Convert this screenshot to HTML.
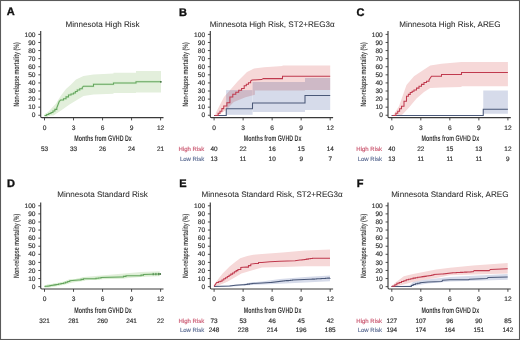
<!DOCTYPE html>
<html><head><meta charset="utf-8"><style>
html,body{margin:0;padding:0;background:#fff;}
svg{display:block;font-family:"Liberation Sans", sans-serif;text-rendering:geometricPrecision;filter:blur(0.25px);}
</style></head><body>
<svg width="520" height="340" viewBox="0 0 520 340">
<rect x="0" y="0" width="520" height="340" fill="#ffffff"/><polygon points="44.5,115.5 50,110 56,103.5 61,95.5 66,89 70.5,85 76,79.5 83.5,76 93.5,74.5 113.5,73.5 113.5,72.7 136,72.7 136,71 161,71 161,92.5 136,92.5 136,93 113.5,93 113.5,93.8 93.5,94.5 83.5,96 69.5,104.5 61,110.5 53.5,115.5" fill="#e3efdc"/><polyline points="44.50,115.50 46.67,115.50 46.67,114.50 48.83,114.50 48.83,113.50 51.00,113.50 51.00,112.50 52.93,112.50 52.93,110.93 54.87,110.93 54.87,109.37 56.80,109.37 56.80,107.80 59.20,101.50 60.70,100.00 63.50,100.00 63.50,98.75 66.00,98.75 66.00,96.88 68.50,96.88 68.50,95.00 71.00,95.00 71.00,94.00 73.50,94.00 73.50,93.00 75.38,93.00 75.38,91.50 77.25,91.50 77.25,90.00 79.75,90.00 79.75,88.75 82.25,88.75 82.25,87.50 83.50,86.25 93.50,86.25 93.50,84.25 113.50,84.25 113.50,83.00 136.00,83.00 136.00,81.75 161.00,81.75" fill="none" stroke="#d4edcc" stroke-width="2.6" stroke-linejoin="miter"/><polyline points="44.50,115.50 46.67,115.50 46.67,114.50 48.83,114.50 48.83,113.50 51.00,113.50 51.00,112.50 52.93,112.50 52.93,110.93 54.87,110.93 54.87,109.37 56.80,109.37 56.80,107.80 59.20,101.50 60.70,100.00 63.50,100.00 63.50,98.75 66.00,98.75 66.00,96.88 68.50,96.88 68.50,95.00 71.00,95.00 71.00,94.00 73.50,94.00 73.50,93.00 75.38,93.00 75.38,91.50 77.25,91.50 77.25,90.00 79.75,90.00 79.75,88.75 82.25,88.75 82.25,87.50 83.50,86.25 93.50,86.25 93.50,84.25 113.50,84.25 113.50,83.00 136.00,83.00 136.00,81.75 161.00,81.75" fill="none" stroke="#65a45f" stroke-width="1.05" stroke-linejoin="miter"/><circle cx="160.9" cy="81.8" r="0.9" fill="#3e6e3c"/><rect x="226.1" y="90.1" width="26.50" height="24.70" fill="#d6dbea" fill-opacity="1"/><rect x="252.6" y="82.0" width="52.40" height="30.00" fill="#d6dbea" fill-opacity="1"/><rect x="305.0" y="78.0" width="25.20" height="32.00" fill="#d6dbea" fill-opacity="1"/><g style="mix-blend-mode:multiply"><polygon points="215,115.5 216,112.5 224,97 231,89 238,81 247,72 254,68.6 264,67.2 282.5,66 282.5,65.5 330.2,65.5 330.2,90 305,90 305,90.5 254.9,90.5 254.9,94.8 245.5,97.2 233.8,101.9 226.1,110 218,115.5" fill="#f6d8d8"/></g><polyline points="214.00,115.40 226.25,115.40 226.25,108.75 252.50,108.75 252.50,103.00 305.00,103.00 305.00,95.50 330.20,95.50" fill="none" stroke="#4a5878" stroke-width="1.05" stroke-linejoin="miter"/><polyline points="214.50,115.40 216.25,115.40 218.12,115.40 218.12,113.33 220.00,113.33 220.00,111.25 221.88,111.25 221.88,108.62 223.75,108.62 223.75,106.00 226.90,106.00 226.90,102.80 229.90,102.80 229.90,96.90 232.80,96.90 232.80,94.30 235.80,94.30 235.80,92.20 238.70,92.20 238.70,90.20 241.60,90.20 241.60,88.40 244.20,88.40 244.20,85.80 246.33,85.80 246.33,84.23 248.47,84.23 248.47,82.67 250.60,82.67 250.60,81.10 252.00,80.00 261.50,79.60 263.30,78.60 282.50,78.60 282.50,76.25 330.20,76.25" fill="none" stroke="#c03a4e" stroke-width="1.05" stroke-linejoin="miter"/><rect x="483.25" y="90.5" width="24.65" height="23.25" fill="#d6dbea" fill-opacity="1"/><polygon points="393,115.5 394,114 399,106.25 406.5,85 414,76.25 421.5,71.25 430.25,65.5 441.5,63.75 461.5,62 507.9,62 507.9,86.25 461.5,86.25 461.5,87 441.5,87.5 430.25,88 424,92 416.5,98.5 409,107.5 401.5,115.5" fill="#f6d8d8"/><polyline points="391.50,115.40 483.25,115.40 483.25,109.25 507.90,109.25" fill="none" stroke="#4a5878" stroke-width="1.05" stroke-linejoin="miter"/><polyline points="392.50,115.40 394.00,115.40 395.88,115.40 395.88,113.33 397.75,113.33 397.75,111.25 399.62,111.25 399.62,108.75 401.50,108.75 401.50,106.25 404.00,106.25 404.00,101.25 406.50,101.25 406.50,96.25 408.38,96.25 408.38,94.38 410.25,94.38 410.25,92.50 412.12,92.50 412.12,91.25 414.00,91.25 414.00,90.00 416.50,90.00 416.50,88.12 419.00,88.12 419.00,86.25 421.50,86.25 421.50,84.38 424.00,84.38 424.00,82.50 426.50,82.50 426.50,81.25 429.00,81.25 429.00,80.00 431.50,76.25 441.50,76.25 441.50,74.50 461.50,74.50 461.50,72.50 507.90,72.50" fill="none" stroke="#c03a4e" stroke-width="1.05" stroke-linejoin="miter"/><polygon points="44.5,286.5 52,285 63.5,282 83.5,277 101,275.5 121,273.75 141,272 159.75,271.25 159.75,276.25 141,277 121,278.75 101,279.25 83.5,280.5 63.5,284.5 50,287" fill="#e3efdc"/><polyline points="44.50,286.50 46.00,286.25 48.00,286.25 48.00,285.90 50.00,285.90 50.00,285.55 52.00,285.55 52.00,285.20 54.00,285.20 54.00,284.85 56.00,284.85 56.00,284.50 58.50,284.50 58.50,284.00 61.00,284.00 61.00,283.50 63.50,283.50 63.50,283.00 65.58,283.00 65.58,282.25 67.67,282.25 67.67,281.50 69.75,281.50 69.75,280.75 78.50,280.00 81.00,280.00 81.00,279.38 83.50,279.38 83.50,278.75 93.50,278.75 96.00,278.75 96.00,278.33 98.50,278.33 98.50,277.92 101.00,277.92 101.00,277.50 121.00,277.00 123.50,277.00 123.50,276.38 126.00,276.38 126.00,275.75 138.50,275.75 141.00,275.75 141.00,275.12 143.50,275.12 143.50,274.50 159.75,274.00" fill="none" stroke="#d4edcc" stroke-width="2.6" stroke-linejoin="miter"/><polyline points="44.50,286.50 46.00,286.25 48.00,286.25 48.00,285.90 50.00,285.90 50.00,285.55 52.00,285.55 52.00,285.20 54.00,285.20 54.00,284.85 56.00,284.85 56.00,284.50 58.50,284.50 58.50,284.00 61.00,284.00 61.00,283.50 63.50,283.50 63.50,283.00 65.58,283.00 65.58,282.25 67.67,282.25 67.67,281.50 69.75,281.50 69.75,280.75 78.50,280.00 81.00,280.00 81.00,279.38 83.50,279.38 83.50,278.75 93.50,278.75 96.00,278.75 96.00,278.33 98.50,278.33 98.50,277.92 101.00,277.92 101.00,277.50 121.00,277.00 123.50,277.00 123.50,276.38 126.00,276.38 126.00,275.75 138.50,275.75 141.00,275.75 141.00,275.12 143.50,275.12 143.50,274.50 159.75,274.00" fill="none" stroke="#65a45f" stroke-width="1.05" stroke-linejoin="miter"/><line x1="153.2" y1="272.9" x2="153.2" y2="275.3" stroke="#3e7a3c" stroke-width="0.8"/><line x1="155.9" y1="272.9" x2="155.9" y2="275.3" stroke="#3e7a3c" stroke-width="0.8"/><line x1="158.6" y1="272.9" x2="158.6" y2="275.3" stroke="#3e7a3c" stroke-width="0.8"/><circle cx="160.2" cy="274" r="0.9" fill="#3e6e3c"/><polygon points="214,286.5 242.6,284 252,282.2 262,281.5 280,279 305,277 330,275.5 330,281.25 280,283.75 252,285 230,286.8 214,286.8" fill="#d6dbea"/><g style="mix-blend-mode:multiply"><polygon points="214,286.5 214.4,284.1 222.6,273.5 229.6,266.5 235.5,261.8 240.2,258.2 247.3,255.9 253.2,254.7 262,254.1 282.5,252.5 305,250.5 330,249.5 330,266.25 305,266.25 282.5,267 262,267.6 253.2,270 247.3,271.8 241.4,273.5 235.5,277.1 227.3,281.8 219,285.3 216,286.5" fill="#f6d8d8"/></g><polyline points="214.00,286.40 229.60,285.90 235.50,285.30 242.60,284.70 244.95,284.70 244.95,284.40 247.30,284.40 247.30,284.10 249.65,284.10 249.65,283.80 252.00,283.80 252.00,283.50 262.00,282.90 270.00,282.50 272.00,282.50 272.00,282.25 274.00,282.25 274.00,282.00 276.00,282.00 276.00,281.75 278.00,281.75 278.00,281.50 280.00,281.50 280.00,281.25 282.08,281.25 282.08,281.04 284.17,281.04 284.17,280.83 286.25,280.83 286.25,280.62 288.33,280.62 288.33,280.42 290.42,280.42 290.42,280.21 292.50,280.21 292.50,280.00 310.00,279.25 312.22,279.25 312.22,279.11 314.44,279.11 314.44,278.97 316.67,278.97 316.67,278.83 318.89,278.83 318.89,278.69 321.11,278.69 321.11,278.56 323.33,278.56 323.33,278.42 325.56,278.42 325.56,278.28 327.78,278.28 327.78,278.14 330.00,278.14 330.00,278.00" fill="none" stroke="#4a5878" stroke-width="1.05" stroke-linejoin="miter"/><polyline points="214.00,286.40 214.40,285.90 216.70,282.40 218.45,282.40 218.45,281.80 220.20,281.80 220.20,281.20 222.00,281.20 222.00,280.00 223.80,280.00 223.80,278.80 225.55,278.80 225.55,277.65 227.30,277.65 227.30,276.50 229.05,276.50 229.05,275.30 230.80,275.30 230.80,274.10 232.60,274.10 232.60,272.95 234.40,272.95 234.40,271.80 236.15,271.80 236.15,270.60 237.90,270.60 237.90,269.40 240.80,269.40 240.80,267.60 246.10,267.10 248.45,267.10 248.45,265.60 250.80,265.60 250.80,264.10 255.50,263.50 258.50,263.50 258.50,262.40 262.00,262.40 270.00,261.75 280.00,261.25 295.00,260.75 300.00,260.00 302.08,260.00 302.08,259.71 304.17,259.71 304.17,259.42 306.25,259.42 306.25,259.12 308.33,259.12 308.33,258.83 310.42,258.83 310.42,258.54 312.50,258.54 312.50,258.25 330.00,258.25" fill="none" stroke="#c03a4e" stroke-width="1.05" stroke-linejoin="miter"/><polygon points="391.5,286.5 409.6,285.5 413.1,282.1 424.6,279.8 450,276.9 473.1,275.8 507.7,274 507.7,279.8 450,281.5 428,283.5 413.1,286 391.5,286.7" fill="#d6dbea"/><g style="mix-blend-mode:multiply"><polygon points="391.5,286.5 394.6,283.3 403.8,276.3 413.1,274 424.6,271.7 436.1,269.4 450,267.7 473.1,265.4 507.7,263.1 507.7,273.5 473.1,274.6 450,275.2 436.1,278.1 424.6,279.8 413.1,282.1 401.5,285 396,286.5" fill="#f6d8d8"/></g><polyline points="391.50,286.40 409.60,286.40 411.35,286.40 411.35,285.40 413.10,285.40 413.10,284.40 415.40,284.40 415.40,283.83 417.70,283.83 417.70,283.27 420.00,283.27 420.00,282.70 428.10,282.10 441.90,281.50 442.50,280.20 450.00,279.80 468.50,279.80 469.60,279.20 486.90,278.60 488.10,277.50 507.70,276.90" fill="none" stroke="#4a5878" stroke-width="1.05" stroke-linejoin="miter"/><polyline points="391.50,286.40 392.90,286.10 394.90,286.10 394.90,284.70 396.90,284.70 396.90,283.30 399.20,283.30 399.20,282.40 401.50,282.40 401.50,281.50 403.85,281.50 403.85,280.65 406.20,280.65 406.20,279.80 408.50,279.80 408.50,279.23 410.80,279.23 410.80,278.67 413.10,278.67 413.10,278.10 415.40,278.10 415.40,277.70 417.70,277.70 417.70,277.30 420.00,277.30 420.00,276.90 422.02,276.90 422.02,276.62 424.05,276.62 424.05,276.35 426.08,276.35 426.08,276.07 428.10,276.07 428.10,275.80 430.00,275.80 430.00,275.40 431.90,275.40 431.90,275.00 433.80,275.00 433.80,274.60 441.90,274.00 443.92,274.00 443.92,273.73 445.95,273.73 445.95,273.45 447.98,273.45 447.98,273.17 450.00,273.17 450.00,272.90 452.10,272.90 452.10,272.79 454.20,272.79 454.20,272.68 456.30,272.68 456.30,272.57 458.40,272.57 458.40,272.46 460.50,272.46 460.50,272.35 462.60,272.35 462.60,272.25 464.70,272.25 464.70,272.14 466.80,272.14 466.80,272.03 468.90,272.03 468.90,271.92 471.00,271.92 471.00,271.81 473.10,271.81 473.10,271.70 474.20,270.60 489.20,270.60 490.40,269.40 507.70,268.80" fill="none" stroke="#c03a4e" stroke-width="1.05" stroke-linejoin="miter"/><text x="6.7" y="15.4" font-size="11" font-weight="700" fill="#111" stroke="#111" stroke-width="0.35">A</text><g transform="translate(0,0)"><text x="102.55" y="26.7" font-size="8.1" text-anchor="middle" fill="#2a2a2a" stroke="#2a2a2a" stroke-width="0.06">Minnesota High Risk</text><path d="M40.7,31.0 L40.7,116.39999999999999 Q40.7,117.6 41.900000000000006,117.6 L163.5,117.6" fill="none" stroke="#3a3a3a" stroke-width="1.15"/><line x1="38.300000000000004" y1="115.25" x2="40.7" y2="115.25" stroke="#3a3a3a" stroke-width="0.9"/><text x="35.50" y="117.40" font-size="6.6" text-anchor="end" fill="#333333" stroke="#333333" stroke-width="0.18">0</text><line x1="38.300000000000004" y1="107.17" x2="40.7" y2="107.17" stroke="#3a3a3a" stroke-width="0.9"/><text x="35.50" y="109.32" font-size="6.6" text-anchor="end" fill="#333333" stroke="#333333" stroke-width="0.18">10</text><line x1="38.300000000000004" y1="99.08" x2="40.7" y2="99.08" stroke="#3a3a3a" stroke-width="0.9"/><text x="35.50" y="101.23" font-size="6.6" text-anchor="end" fill="#333333" stroke="#333333" stroke-width="0.18">20</text><line x1="38.300000000000004" y1="91.00" x2="40.7" y2="91.00" stroke="#3a3a3a" stroke-width="0.9"/><text x="35.50" y="93.15" font-size="6.6" text-anchor="end" fill="#333333" stroke="#333333" stroke-width="0.18">30</text><line x1="38.300000000000004" y1="82.91" x2="40.7" y2="82.91" stroke="#3a3a3a" stroke-width="0.9"/><text x="35.50" y="85.06" font-size="6.6" text-anchor="end" fill="#333333" stroke="#333333" stroke-width="0.18">40</text><line x1="38.300000000000004" y1="74.83" x2="40.7" y2="74.83" stroke="#3a3a3a" stroke-width="0.9"/><text x="35.50" y="76.98" font-size="6.6" text-anchor="end" fill="#333333" stroke="#333333" stroke-width="0.18">50</text><line x1="38.300000000000004" y1="66.74" x2="40.7" y2="66.74" stroke="#3a3a3a" stroke-width="0.9"/><text x="35.50" y="68.89" font-size="6.6" text-anchor="end" fill="#333333" stroke="#333333" stroke-width="0.18">60</text><line x1="38.300000000000004" y1="58.66" x2="40.7" y2="58.66" stroke="#3a3a3a" stroke-width="0.9"/><text x="35.50" y="60.81" font-size="6.6" text-anchor="end" fill="#333333" stroke="#333333" stroke-width="0.18">70</text><line x1="38.300000000000004" y1="50.57" x2="40.7" y2="50.57" stroke="#3a3a3a" stroke-width="0.9"/><text x="35.50" y="52.72" font-size="6.6" text-anchor="end" fill="#333333" stroke="#333333" stroke-width="0.18">80</text><line x1="38.300000000000004" y1="42.48" x2="40.7" y2="42.48" stroke="#3a3a3a" stroke-width="0.9"/><text x="35.50" y="44.63" font-size="6.6" text-anchor="end" fill="#333333" stroke="#333333" stroke-width="0.18">90</text><line x1="38.300000000000004" y1="34.40" x2="40.7" y2="34.40" stroke="#3a3a3a" stroke-width="0.9"/><text x="35.50" y="36.55" font-size="6.6" text-anchor="end" fill="#333333" stroke="#333333" stroke-width="0.18">100</text><line x1="44.50" y1="117.6" x2="44.50" y2="120.39999999999999" stroke="#3a3a3a" stroke-width="0.9"/><text x="44.50" y="129.5" font-size="6.6" text-anchor="middle" fill="#333333" stroke="#333333" stroke-width="0.18">0</text><line x1="73.52" y1="117.6" x2="73.52" y2="120.39999999999999" stroke="#3a3a3a" stroke-width="0.9"/><text x="73.52" y="129.5" font-size="6.6" text-anchor="middle" fill="#333333" stroke="#333333" stroke-width="0.18">3</text><line x1="102.55" y1="117.6" x2="102.55" y2="120.39999999999999" stroke="#3a3a3a" stroke-width="0.9"/><text x="102.55" y="129.5" font-size="6.6" text-anchor="middle" fill="#333333" stroke="#333333" stroke-width="0.18">6</text><line x1="131.57" y1="117.6" x2="131.57" y2="120.39999999999999" stroke="#3a3a3a" stroke-width="0.9"/><text x="131.57" y="129.5" font-size="6.6" text-anchor="middle" fill="#333333" stroke="#333333" stroke-width="0.18">9</text><line x1="160.60" y1="117.6" x2="160.60" y2="120.39999999999999" stroke="#3a3a3a" stroke-width="0.9"/><text x="160.60" y="129.5" font-size="6.6" text-anchor="middle" fill="#333333" stroke="#333333" stroke-width="0.18">12</text><text transform="translate(103.05,141.1) scale(0.66,1)" x="0" y="0" font-size="8.1" font-weight="700" text-anchor="middle" fill="#383838">Months from GVHD Dx</text><text transform="translate(18.8,74.4) rotate(-90) scale(0.68,1)" x="0" y="0" font-size="7.8" font-weight="700" text-anchor="middle" fill="#484848">Non-relapse mortality (%)</text><text x="44.50" y="151.20" font-size="6.4" text-anchor="middle" fill="#333333" stroke="#333333" stroke-width="0.18">53</text><text x="73.52" y="151.20" font-size="6.4" text-anchor="middle" fill="#333333" stroke="#333333" stroke-width="0.18">33</text><text x="102.55" y="151.20" font-size="6.4" text-anchor="middle" fill="#333333" stroke="#333333" stroke-width="0.18">26</text><text x="131.57" y="151.20" font-size="6.4" text-anchor="middle" fill="#333333" stroke="#333333" stroke-width="0.18">24</text><text x="160.60" y="151.20" font-size="6.4" text-anchor="middle" fill="#333333" stroke="#333333" stroke-width="0.18">21</text></g><text x="179.0" y="16.1" font-size="11" font-weight="700" fill="#111" stroke="#111" stroke-width="0.35">B</text><g transform="translate(169.6,0)"><text x="102.55" y="26.7" font-size="8.1" text-anchor="middle" fill="#2a2a2a" stroke="#2a2a2a" stroke-width="0.06">Minnesota High Risk, ST2+REG3α</text><path d="M40.7,31.0 L40.7,116.39999999999999 Q40.7,117.6 41.900000000000006,117.6 L163.5,117.6" fill="none" stroke="#3a3a3a" stroke-width="1.15"/><line x1="38.300000000000004" y1="115.25" x2="40.7" y2="115.25" stroke="#3a3a3a" stroke-width="0.9"/><text x="35.50" y="117.40" font-size="6.6" text-anchor="end" fill="#333333" stroke="#333333" stroke-width="0.18">0</text><line x1="38.300000000000004" y1="107.17" x2="40.7" y2="107.17" stroke="#3a3a3a" stroke-width="0.9"/><text x="35.50" y="109.32" font-size="6.6" text-anchor="end" fill="#333333" stroke="#333333" stroke-width="0.18">10</text><line x1="38.300000000000004" y1="99.08" x2="40.7" y2="99.08" stroke="#3a3a3a" stroke-width="0.9"/><text x="35.50" y="101.23" font-size="6.6" text-anchor="end" fill="#333333" stroke="#333333" stroke-width="0.18">20</text><line x1="38.300000000000004" y1="91.00" x2="40.7" y2="91.00" stroke="#3a3a3a" stroke-width="0.9"/><text x="35.50" y="93.15" font-size="6.6" text-anchor="end" fill="#333333" stroke="#333333" stroke-width="0.18">30</text><line x1="38.300000000000004" y1="82.91" x2="40.7" y2="82.91" stroke="#3a3a3a" stroke-width="0.9"/><text x="35.50" y="85.06" font-size="6.6" text-anchor="end" fill="#333333" stroke="#333333" stroke-width="0.18">40</text><line x1="38.300000000000004" y1="74.83" x2="40.7" y2="74.83" stroke="#3a3a3a" stroke-width="0.9"/><text x="35.50" y="76.98" font-size="6.6" text-anchor="end" fill="#333333" stroke="#333333" stroke-width="0.18">50</text><line x1="38.300000000000004" y1="66.74" x2="40.7" y2="66.74" stroke="#3a3a3a" stroke-width="0.9"/><text x="35.50" y="68.89" font-size="6.6" text-anchor="end" fill="#333333" stroke="#333333" stroke-width="0.18">60</text><line x1="38.300000000000004" y1="58.66" x2="40.7" y2="58.66" stroke="#3a3a3a" stroke-width="0.9"/><text x="35.50" y="60.81" font-size="6.6" text-anchor="end" fill="#333333" stroke="#333333" stroke-width="0.18">70</text><line x1="38.300000000000004" y1="50.57" x2="40.7" y2="50.57" stroke="#3a3a3a" stroke-width="0.9"/><text x="35.50" y="52.72" font-size="6.6" text-anchor="end" fill="#333333" stroke="#333333" stroke-width="0.18">80</text><line x1="38.300000000000004" y1="42.48" x2="40.7" y2="42.48" stroke="#3a3a3a" stroke-width="0.9"/><text x="35.50" y="44.63" font-size="6.6" text-anchor="end" fill="#333333" stroke="#333333" stroke-width="0.18">90</text><line x1="38.300000000000004" y1="34.40" x2="40.7" y2="34.40" stroke="#3a3a3a" stroke-width="0.9"/><text x="35.50" y="36.55" font-size="6.6" text-anchor="end" fill="#333333" stroke="#333333" stroke-width="0.18">100</text><line x1="44.50" y1="117.6" x2="44.50" y2="120.39999999999999" stroke="#3a3a3a" stroke-width="0.9"/><text x="44.50" y="129.5" font-size="6.6" text-anchor="middle" fill="#333333" stroke="#333333" stroke-width="0.18">0</text><line x1="73.52" y1="117.6" x2="73.52" y2="120.39999999999999" stroke="#3a3a3a" stroke-width="0.9"/><text x="73.52" y="129.5" font-size="6.6" text-anchor="middle" fill="#333333" stroke="#333333" stroke-width="0.18">3</text><line x1="102.55" y1="117.6" x2="102.55" y2="120.39999999999999" stroke="#3a3a3a" stroke-width="0.9"/><text x="102.55" y="129.5" font-size="6.6" text-anchor="middle" fill="#333333" stroke="#333333" stroke-width="0.18">6</text><line x1="131.57" y1="117.6" x2="131.57" y2="120.39999999999999" stroke="#3a3a3a" stroke-width="0.9"/><text x="131.57" y="129.5" font-size="6.6" text-anchor="middle" fill="#333333" stroke="#333333" stroke-width="0.18">9</text><line x1="160.60" y1="117.6" x2="160.60" y2="120.39999999999999" stroke="#3a3a3a" stroke-width="0.9"/><text x="160.60" y="129.5" font-size="6.6" text-anchor="middle" fill="#333333" stroke="#333333" stroke-width="0.18">12</text><text transform="translate(103.05,141.1) scale(0.66,1)" x="0" y="0" font-size="8.1" font-weight="700" text-anchor="middle" fill="#383838">Months from GVHD Dx</text><text transform="translate(18.8,74.4) rotate(-90) scale(0.68,1)" x="0" y="0" font-size="7.8" font-weight="700" text-anchor="middle" fill="#484848">Non-relapse mortality (%)</text><text x="34.70" y="151.20" font-size="6" text-anchor="end" fill="#c8506a" stroke="#c8506a" stroke-width="0.12">High Risk</text><text x="44.50" y="151.20" font-size="6.4" text-anchor="middle" fill="#333333" stroke="#333333" stroke-width="0.18">40</text><text x="73.52" y="151.20" font-size="6.4" text-anchor="middle" fill="#333333" stroke="#333333" stroke-width="0.18">22</text><text x="102.55" y="151.20" font-size="6.4" text-anchor="middle" fill="#333333" stroke="#333333" stroke-width="0.18">16</text><text x="131.57" y="151.20" font-size="6.4" text-anchor="middle" fill="#333333" stroke="#333333" stroke-width="0.18">15</text><text x="160.60" y="151.20" font-size="6.4" text-anchor="middle" fill="#333333" stroke="#333333" stroke-width="0.18">14</text><text x="34.70" y="160.85" font-size="6" text-anchor="end" fill="#56678f" stroke="#56678f" stroke-width="0.12">Low Risk</text><text x="44.50" y="160.85" font-size="6.4" text-anchor="middle" fill="#333333" stroke="#333333" stroke-width="0.18">13</text><text x="73.52" y="160.85" font-size="6.4" text-anchor="middle" fill="#333333" stroke="#333333" stroke-width="0.18">11</text><text x="102.55" y="160.85" font-size="6.4" text-anchor="middle" fill="#333333" stroke="#333333" stroke-width="0.18">10</text><text x="131.57" y="160.85" font-size="6.4" text-anchor="middle" fill="#333333" stroke="#333333" stroke-width="0.18">9</text><text x="160.60" y="160.85" font-size="6.4" text-anchor="middle" fill="#333333" stroke="#333333" stroke-width="0.18">7</text></g><text x="356.6" y="16.1" font-size="11" font-weight="700" fill="#111" stroke="#111" stroke-width="0.35">C</text><g transform="translate(347.3,0)"><text x="102.55" y="26.7" font-size="8.1" text-anchor="middle" fill="#2a2a2a" stroke="#2a2a2a" stroke-width="0.06">Minnesota High Risk, AREG</text><path d="M40.7,31.0 L40.7,116.39999999999999 Q40.7,117.6 41.900000000000006,117.6 L163.5,117.6" fill="none" stroke="#3a3a3a" stroke-width="1.15"/><line x1="38.300000000000004" y1="115.25" x2="40.7" y2="115.25" stroke="#3a3a3a" stroke-width="0.9"/><text x="35.50" y="117.40" font-size="6.6" text-anchor="end" fill="#333333" stroke="#333333" stroke-width="0.18">0</text><line x1="38.300000000000004" y1="107.17" x2="40.7" y2="107.17" stroke="#3a3a3a" stroke-width="0.9"/><text x="35.50" y="109.32" font-size="6.6" text-anchor="end" fill="#333333" stroke="#333333" stroke-width="0.18">10</text><line x1="38.300000000000004" y1="99.08" x2="40.7" y2="99.08" stroke="#3a3a3a" stroke-width="0.9"/><text x="35.50" y="101.23" font-size="6.6" text-anchor="end" fill="#333333" stroke="#333333" stroke-width="0.18">20</text><line x1="38.300000000000004" y1="91.00" x2="40.7" y2="91.00" stroke="#3a3a3a" stroke-width="0.9"/><text x="35.50" y="93.15" font-size="6.6" text-anchor="end" fill="#333333" stroke="#333333" stroke-width="0.18">30</text><line x1="38.300000000000004" y1="82.91" x2="40.7" y2="82.91" stroke="#3a3a3a" stroke-width="0.9"/><text x="35.50" y="85.06" font-size="6.6" text-anchor="end" fill="#333333" stroke="#333333" stroke-width="0.18">40</text><line x1="38.300000000000004" y1="74.83" x2="40.7" y2="74.83" stroke="#3a3a3a" stroke-width="0.9"/><text x="35.50" y="76.98" font-size="6.6" text-anchor="end" fill="#333333" stroke="#333333" stroke-width="0.18">50</text><line x1="38.300000000000004" y1="66.74" x2="40.7" y2="66.74" stroke="#3a3a3a" stroke-width="0.9"/><text x="35.50" y="68.89" font-size="6.6" text-anchor="end" fill="#333333" stroke="#333333" stroke-width="0.18">60</text><line x1="38.300000000000004" y1="58.66" x2="40.7" y2="58.66" stroke="#3a3a3a" stroke-width="0.9"/><text x="35.50" y="60.81" font-size="6.6" text-anchor="end" fill="#333333" stroke="#333333" stroke-width="0.18">70</text><line x1="38.300000000000004" y1="50.57" x2="40.7" y2="50.57" stroke="#3a3a3a" stroke-width="0.9"/><text x="35.50" y="52.72" font-size="6.6" text-anchor="end" fill="#333333" stroke="#333333" stroke-width="0.18">80</text><line x1="38.300000000000004" y1="42.48" x2="40.7" y2="42.48" stroke="#3a3a3a" stroke-width="0.9"/><text x="35.50" y="44.63" font-size="6.6" text-anchor="end" fill="#333333" stroke="#333333" stroke-width="0.18">90</text><line x1="38.300000000000004" y1="34.40" x2="40.7" y2="34.40" stroke="#3a3a3a" stroke-width="0.9"/><text x="35.50" y="36.55" font-size="6.6" text-anchor="end" fill="#333333" stroke="#333333" stroke-width="0.18">100</text><line x1="44.50" y1="117.6" x2="44.50" y2="120.39999999999999" stroke="#3a3a3a" stroke-width="0.9"/><text x="44.50" y="129.5" font-size="6.6" text-anchor="middle" fill="#333333" stroke="#333333" stroke-width="0.18">0</text><line x1="73.52" y1="117.6" x2="73.52" y2="120.39999999999999" stroke="#3a3a3a" stroke-width="0.9"/><text x="73.52" y="129.5" font-size="6.6" text-anchor="middle" fill="#333333" stroke="#333333" stroke-width="0.18">3</text><line x1="102.55" y1="117.6" x2="102.55" y2="120.39999999999999" stroke="#3a3a3a" stroke-width="0.9"/><text x="102.55" y="129.5" font-size="6.6" text-anchor="middle" fill="#333333" stroke="#333333" stroke-width="0.18">6</text><line x1="131.57" y1="117.6" x2="131.57" y2="120.39999999999999" stroke="#3a3a3a" stroke-width="0.9"/><text x="131.57" y="129.5" font-size="6.6" text-anchor="middle" fill="#333333" stroke="#333333" stroke-width="0.18">9</text><line x1="160.60" y1="117.6" x2="160.60" y2="120.39999999999999" stroke="#3a3a3a" stroke-width="0.9"/><text x="160.60" y="129.5" font-size="6.6" text-anchor="middle" fill="#333333" stroke="#333333" stroke-width="0.18">12</text><text transform="translate(103.05,141.1) scale(0.66,1)" x="0" y="0" font-size="8.1" font-weight="700" text-anchor="middle" fill="#383838">Months from GVHD Dx</text><text transform="translate(18.8,74.4) rotate(-90) scale(0.68,1)" x="0" y="0" font-size="7.8" font-weight="700" text-anchor="middle" fill="#484848">Non-relapse mortality (%)</text><text x="34.70" y="151.20" font-size="6" text-anchor="end" fill="#c8506a" stroke="#c8506a" stroke-width="0.12">High Risk</text><text x="44.50" y="151.20" font-size="6.4" text-anchor="middle" fill="#333333" stroke="#333333" stroke-width="0.18">40</text><text x="73.52" y="151.20" font-size="6.4" text-anchor="middle" fill="#333333" stroke="#333333" stroke-width="0.18">22</text><text x="102.55" y="151.20" font-size="6.4" text-anchor="middle" fill="#333333" stroke="#333333" stroke-width="0.18">15</text><text x="131.57" y="151.20" font-size="6.4" text-anchor="middle" fill="#333333" stroke="#333333" stroke-width="0.18">13</text><text x="160.60" y="151.20" font-size="6.4" text-anchor="middle" fill="#333333" stroke="#333333" stroke-width="0.18">12</text><text x="34.70" y="160.85" font-size="6" text-anchor="end" fill="#56678f" stroke="#56678f" stroke-width="0.12">Low Risk</text><text x="44.50" y="160.85" font-size="6.4" text-anchor="middle" fill="#333333" stroke="#333333" stroke-width="0.18">13</text><text x="73.52" y="160.85" font-size="6.4" text-anchor="middle" fill="#333333" stroke="#333333" stroke-width="0.18">11</text><text x="102.55" y="160.85" font-size="6.4" text-anchor="middle" fill="#333333" stroke="#333333" stroke-width="0.18">11</text><text x="131.57" y="160.85" font-size="6.4" text-anchor="middle" fill="#333333" stroke="#333333" stroke-width="0.18">11</text><text x="160.60" y="160.85" font-size="6.4" text-anchor="middle" fill="#333333" stroke="#333333" stroke-width="0.18">9</text></g><text x="7.0" y="186.8" font-size="11" font-weight="700" fill="#111" stroke="#111" stroke-width="0.35">D</text><g transform="translate(0,171.4)"><text x="102.55" y="25.8" font-size="8.1" text-anchor="middle" fill="#2a2a2a" stroke="#2a2a2a" stroke-width="0.06">Minnesota Standard Risk</text><path d="M40.7,31.0 L40.7,116.39999999999999 Q40.7,117.6 41.900000000000006,117.6 L163.5,117.6" fill="none" stroke="#3a3a3a" stroke-width="1.15"/><line x1="38.300000000000004" y1="115.25" x2="40.7" y2="115.25" stroke="#3a3a3a" stroke-width="0.9"/><text x="35.50" y="117.40" font-size="6.6" text-anchor="end" fill="#333333" stroke="#333333" stroke-width="0.18">0</text><line x1="38.300000000000004" y1="107.17" x2="40.7" y2="107.17" stroke="#3a3a3a" stroke-width="0.9"/><text x="35.50" y="109.32" font-size="6.6" text-anchor="end" fill="#333333" stroke="#333333" stroke-width="0.18">10</text><line x1="38.300000000000004" y1="99.08" x2="40.7" y2="99.08" stroke="#3a3a3a" stroke-width="0.9"/><text x="35.50" y="101.23" font-size="6.6" text-anchor="end" fill="#333333" stroke="#333333" stroke-width="0.18">20</text><line x1="38.300000000000004" y1="91.00" x2="40.7" y2="91.00" stroke="#3a3a3a" stroke-width="0.9"/><text x="35.50" y="93.15" font-size="6.6" text-anchor="end" fill="#333333" stroke="#333333" stroke-width="0.18">30</text><line x1="38.300000000000004" y1="82.91" x2="40.7" y2="82.91" stroke="#3a3a3a" stroke-width="0.9"/><text x="35.50" y="85.06" font-size="6.6" text-anchor="end" fill="#333333" stroke="#333333" stroke-width="0.18">40</text><line x1="38.300000000000004" y1="74.83" x2="40.7" y2="74.83" stroke="#3a3a3a" stroke-width="0.9"/><text x="35.50" y="76.98" font-size="6.6" text-anchor="end" fill="#333333" stroke="#333333" stroke-width="0.18">50</text><line x1="38.300000000000004" y1="66.74" x2="40.7" y2="66.74" stroke="#3a3a3a" stroke-width="0.9"/><text x="35.50" y="68.89" font-size="6.6" text-anchor="end" fill="#333333" stroke="#333333" stroke-width="0.18">60</text><line x1="38.300000000000004" y1="58.66" x2="40.7" y2="58.66" stroke="#3a3a3a" stroke-width="0.9"/><text x="35.50" y="60.81" font-size="6.6" text-anchor="end" fill="#333333" stroke="#333333" stroke-width="0.18">70</text><line x1="38.300000000000004" y1="50.57" x2="40.7" y2="50.57" stroke="#3a3a3a" stroke-width="0.9"/><text x="35.50" y="52.72" font-size="6.6" text-anchor="end" fill="#333333" stroke="#333333" stroke-width="0.18">80</text><line x1="38.300000000000004" y1="42.48" x2="40.7" y2="42.48" stroke="#3a3a3a" stroke-width="0.9"/><text x="35.50" y="44.63" font-size="6.6" text-anchor="end" fill="#333333" stroke="#333333" stroke-width="0.18">90</text><line x1="38.300000000000004" y1="34.40" x2="40.7" y2="34.40" stroke="#3a3a3a" stroke-width="0.9"/><text x="35.50" y="36.55" font-size="6.6" text-anchor="end" fill="#333333" stroke="#333333" stroke-width="0.18">100</text><line x1="44.50" y1="117.6" x2="44.50" y2="120.39999999999999" stroke="#3a3a3a" stroke-width="0.9"/><text x="44.50" y="129.5" font-size="6.6" text-anchor="middle" fill="#333333" stroke="#333333" stroke-width="0.18">0</text><line x1="73.52" y1="117.6" x2="73.52" y2="120.39999999999999" stroke="#3a3a3a" stroke-width="0.9"/><text x="73.52" y="129.5" font-size="6.6" text-anchor="middle" fill="#333333" stroke="#333333" stroke-width="0.18">3</text><line x1="102.55" y1="117.6" x2="102.55" y2="120.39999999999999" stroke="#3a3a3a" stroke-width="0.9"/><text x="102.55" y="129.5" font-size="6.6" text-anchor="middle" fill="#333333" stroke="#333333" stroke-width="0.18">6</text><line x1="131.57" y1="117.6" x2="131.57" y2="120.39999999999999" stroke="#3a3a3a" stroke-width="0.9"/><text x="131.57" y="129.5" font-size="6.6" text-anchor="middle" fill="#333333" stroke="#333333" stroke-width="0.18">9</text><line x1="160.60" y1="117.6" x2="160.60" y2="120.39999999999999" stroke="#3a3a3a" stroke-width="0.9"/><text x="160.60" y="129.5" font-size="6.6" text-anchor="middle" fill="#333333" stroke="#333333" stroke-width="0.18">12</text><text transform="translate(103.05,141.1) scale(0.66,1)" x="0" y="0" font-size="8.1" font-weight="700" text-anchor="middle" fill="#383838">Months from GVHD Dx</text><text transform="translate(18.8,74.4) rotate(-90) scale(0.68,1)" x="0" y="0" font-size="7.8" font-weight="700" text-anchor="middle" fill="#484848">Non-relapse mortality (%)</text><text x="44.50" y="151.20" font-size="6.4" text-anchor="middle" fill="#333333" stroke="#333333" stroke-width="0.18">321</text><text x="73.52" y="151.20" font-size="6.4" text-anchor="middle" fill="#333333" stroke="#333333" stroke-width="0.18">281</text><text x="102.55" y="151.20" font-size="6.4" text-anchor="middle" fill="#333333" stroke="#333333" stroke-width="0.18">260</text><text x="131.57" y="151.20" font-size="6.4" text-anchor="middle" fill="#333333" stroke="#333333" stroke-width="0.18">241</text><text x="160.60" y="151.20" font-size="6.4" text-anchor="middle" fill="#333333" stroke="#333333" stroke-width="0.18">22</text></g><text x="179.2" y="186.8" font-size="11" font-weight="700" fill="#111" stroke="#111" stroke-width="0.35">E</text><g transform="translate(169.6,171.4)"><text x="102.55" y="25.8" font-size="8.1" text-anchor="middle" fill="#2a2a2a" stroke="#2a2a2a" stroke-width="0.06">Minnesota Standard Risk, ST2+REG3α</text><path d="M40.7,31.0 L40.7,116.39999999999999 Q40.7,117.6 41.900000000000006,117.6 L163.5,117.6" fill="none" stroke="#3a3a3a" stroke-width="1.15"/><line x1="38.300000000000004" y1="115.25" x2="40.7" y2="115.25" stroke="#3a3a3a" stroke-width="0.9"/><text x="35.50" y="117.40" font-size="6.6" text-anchor="end" fill="#333333" stroke="#333333" stroke-width="0.18">0</text><line x1="38.300000000000004" y1="107.17" x2="40.7" y2="107.17" stroke="#3a3a3a" stroke-width="0.9"/><text x="35.50" y="109.32" font-size="6.6" text-anchor="end" fill="#333333" stroke="#333333" stroke-width="0.18">10</text><line x1="38.300000000000004" y1="99.08" x2="40.7" y2="99.08" stroke="#3a3a3a" stroke-width="0.9"/><text x="35.50" y="101.23" font-size="6.6" text-anchor="end" fill="#333333" stroke="#333333" stroke-width="0.18">20</text><line x1="38.300000000000004" y1="91.00" x2="40.7" y2="91.00" stroke="#3a3a3a" stroke-width="0.9"/><text x="35.50" y="93.15" font-size="6.6" text-anchor="end" fill="#333333" stroke="#333333" stroke-width="0.18">30</text><line x1="38.300000000000004" y1="82.91" x2="40.7" y2="82.91" stroke="#3a3a3a" stroke-width="0.9"/><text x="35.50" y="85.06" font-size="6.6" text-anchor="end" fill="#333333" stroke="#333333" stroke-width="0.18">40</text><line x1="38.300000000000004" y1="74.83" x2="40.7" y2="74.83" stroke="#3a3a3a" stroke-width="0.9"/><text x="35.50" y="76.98" font-size="6.6" text-anchor="end" fill="#333333" stroke="#333333" stroke-width="0.18">50</text><line x1="38.300000000000004" y1="66.74" x2="40.7" y2="66.74" stroke="#3a3a3a" stroke-width="0.9"/><text x="35.50" y="68.89" font-size="6.6" text-anchor="end" fill="#333333" stroke="#333333" stroke-width="0.18">60</text><line x1="38.300000000000004" y1="58.66" x2="40.7" y2="58.66" stroke="#3a3a3a" stroke-width="0.9"/><text x="35.50" y="60.81" font-size="6.6" text-anchor="end" fill="#333333" stroke="#333333" stroke-width="0.18">70</text><line x1="38.300000000000004" y1="50.57" x2="40.7" y2="50.57" stroke="#3a3a3a" stroke-width="0.9"/><text x="35.50" y="52.72" font-size="6.6" text-anchor="end" fill="#333333" stroke="#333333" stroke-width="0.18">80</text><line x1="38.300000000000004" y1="42.48" x2="40.7" y2="42.48" stroke="#3a3a3a" stroke-width="0.9"/><text x="35.50" y="44.63" font-size="6.6" text-anchor="end" fill="#333333" stroke="#333333" stroke-width="0.18">90</text><line x1="38.300000000000004" y1="34.40" x2="40.7" y2="34.40" stroke="#3a3a3a" stroke-width="0.9"/><text x="35.50" y="36.55" font-size="6.6" text-anchor="end" fill="#333333" stroke="#333333" stroke-width="0.18">100</text><line x1="44.50" y1="117.6" x2="44.50" y2="120.39999999999999" stroke="#3a3a3a" stroke-width="0.9"/><text x="44.50" y="129.5" font-size="6.6" text-anchor="middle" fill="#333333" stroke="#333333" stroke-width="0.18">0</text><line x1="73.52" y1="117.6" x2="73.52" y2="120.39999999999999" stroke="#3a3a3a" stroke-width="0.9"/><text x="73.52" y="129.5" font-size="6.6" text-anchor="middle" fill="#333333" stroke="#333333" stroke-width="0.18">3</text><line x1="102.55" y1="117.6" x2="102.55" y2="120.39999999999999" stroke="#3a3a3a" stroke-width="0.9"/><text x="102.55" y="129.5" font-size="6.6" text-anchor="middle" fill="#333333" stroke="#333333" stroke-width="0.18">6</text><line x1="131.57" y1="117.6" x2="131.57" y2="120.39999999999999" stroke="#3a3a3a" stroke-width="0.9"/><text x="131.57" y="129.5" font-size="6.6" text-anchor="middle" fill="#333333" stroke="#333333" stroke-width="0.18">9</text><line x1="160.60" y1="117.6" x2="160.60" y2="120.39999999999999" stroke="#3a3a3a" stroke-width="0.9"/><text x="160.60" y="129.5" font-size="6.6" text-anchor="middle" fill="#333333" stroke="#333333" stroke-width="0.18">12</text><text transform="translate(103.05,141.1) scale(0.66,1)" x="0" y="0" font-size="8.1" font-weight="700" text-anchor="middle" fill="#383838">Months from GVHD Dx</text><text transform="translate(18.8,74.4) rotate(-90) scale(0.68,1)" x="0" y="0" font-size="7.8" font-weight="700" text-anchor="middle" fill="#484848">Non-relapse mortality (%)</text><text x="34.70" y="151.20" font-size="6" text-anchor="end" fill="#c8506a" stroke="#c8506a" stroke-width="0.12">High Risk</text><text x="44.50" y="151.20" font-size="6.4" text-anchor="middle" fill="#333333" stroke="#333333" stroke-width="0.18">73</text><text x="73.52" y="151.20" font-size="6.4" text-anchor="middle" fill="#333333" stroke="#333333" stroke-width="0.18">53</text><text x="102.55" y="151.20" font-size="6.4" text-anchor="middle" fill="#333333" stroke="#333333" stroke-width="0.18">46</text><text x="131.57" y="151.20" font-size="6.4" text-anchor="middle" fill="#333333" stroke="#333333" stroke-width="0.18">45</text><text x="160.60" y="151.20" font-size="6.4" text-anchor="middle" fill="#333333" stroke="#333333" stroke-width="0.18">42</text><text x="34.70" y="160.85" font-size="6" text-anchor="end" fill="#56678f" stroke="#56678f" stroke-width="0.12">Low Risk</text><text x="44.50" y="160.85" font-size="6.4" text-anchor="middle" fill="#333333" stroke="#333333" stroke-width="0.18">248</text><text x="73.52" y="160.85" font-size="6.4" text-anchor="middle" fill="#333333" stroke="#333333" stroke-width="0.18">228</text><text x="102.55" y="160.85" font-size="6.4" text-anchor="middle" fill="#333333" stroke="#333333" stroke-width="0.18">214</text><text x="131.57" y="160.85" font-size="6.4" text-anchor="middle" fill="#333333" stroke="#333333" stroke-width="0.18">196</text><text x="160.60" y="160.85" font-size="6.4" text-anchor="middle" fill="#333333" stroke="#333333" stroke-width="0.18">185</text></g><text x="356.8" y="186.8" font-size="11" font-weight="700" fill="#111" stroke="#111" stroke-width="0.35">F</text><g transform="translate(347.3,171.4)"><text x="102.55" y="25.8" font-size="8.1" text-anchor="middle" fill="#2a2a2a" stroke="#2a2a2a" stroke-width="0.06">Minnesota Standard Risk, AREG</text><path d="M40.7,31.0 L40.7,116.39999999999999 Q40.7,117.6 41.900000000000006,117.6 L163.5,117.6" fill="none" stroke="#3a3a3a" stroke-width="1.15"/><line x1="38.300000000000004" y1="115.25" x2="40.7" y2="115.25" stroke="#3a3a3a" stroke-width="0.9"/><text x="35.50" y="117.40" font-size="6.6" text-anchor="end" fill="#333333" stroke="#333333" stroke-width="0.18">0</text><line x1="38.300000000000004" y1="107.17" x2="40.7" y2="107.17" stroke="#3a3a3a" stroke-width="0.9"/><text x="35.50" y="109.32" font-size="6.6" text-anchor="end" fill="#333333" stroke="#333333" stroke-width="0.18">10</text><line x1="38.300000000000004" y1="99.08" x2="40.7" y2="99.08" stroke="#3a3a3a" stroke-width="0.9"/><text x="35.50" y="101.23" font-size="6.6" text-anchor="end" fill="#333333" stroke="#333333" stroke-width="0.18">20</text><line x1="38.300000000000004" y1="91.00" x2="40.7" y2="91.00" stroke="#3a3a3a" stroke-width="0.9"/><text x="35.50" y="93.15" font-size="6.6" text-anchor="end" fill="#333333" stroke="#333333" stroke-width="0.18">30</text><line x1="38.300000000000004" y1="82.91" x2="40.7" y2="82.91" stroke="#3a3a3a" stroke-width="0.9"/><text x="35.50" y="85.06" font-size="6.6" text-anchor="end" fill="#333333" stroke="#333333" stroke-width="0.18">40</text><line x1="38.300000000000004" y1="74.83" x2="40.7" y2="74.83" stroke="#3a3a3a" stroke-width="0.9"/><text x="35.50" y="76.98" font-size="6.6" text-anchor="end" fill="#333333" stroke="#333333" stroke-width="0.18">50</text><line x1="38.300000000000004" y1="66.74" x2="40.7" y2="66.74" stroke="#3a3a3a" stroke-width="0.9"/><text x="35.50" y="68.89" font-size="6.6" text-anchor="end" fill="#333333" stroke="#333333" stroke-width="0.18">60</text><line x1="38.300000000000004" y1="58.66" x2="40.7" y2="58.66" stroke="#3a3a3a" stroke-width="0.9"/><text x="35.50" y="60.81" font-size="6.6" text-anchor="end" fill="#333333" stroke="#333333" stroke-width="0.18">70</text><line x1="38.300000000000004" y1="50.57" x2="40.7" y2="50.57" stroke="#3a3a3a" stroke-width="0.9"/><text x="35.50" y="52.72" font-size="6.6" text-anchor="end" fill="#333333" stroke="#333333" stroke-width="0.18">80</text><line x1="38.300000000000004" y1="42.48" x2="40.7" y2="42.48" stroke="#3a3a3a" stroke-width="0.9"/><text x="35.50" y="44.63" font-size="6.6" text-anchor="end" fill="#333333" stroke="#333333" stroke-width="0.18">90</text><line x1="38.300000000000004" y1="34.40" x2="40.7" y2="34.40" stroke="#3a3a3a" stroke-width="0.9"/><text x="35.50" y="36.55" font-size="6.6" text-anchor="end" fill="#333333" stroke="#333333" stroke-width="0.18">100</text><line x1="44.50" y1="117.6" x2="44.50" y2="120.39999999999999" stroke="#3a3a3a" stroke-width="0.9"/><text x="44.50" y="129.5" font-size="6.6" text-anchor="middle" fill="#333333" stroke="#333333" stroke-width="0.18">0</text><line x1="73.52" y1="117.6" x2="73.52" y2="120.39999999999999" stroke="#3a3a3a" stroke-width="0.9"/><text x="73.52" y="129.5" font-size="6.6" text-anchor="middle" fill="#333333" stroke="#333333" stroke-width="0.18">3</text><line x1="102.55" y1="117.6" x2="102.55" y2="120.39999999999999" stroke="#3a3a3a" stroke-width="0.9"/><text x="102.55" y="129.5" font-size="6.6" text-anchor="middle" fill="#333333" stroke="#333333" stroke-width="0.18">6</text><line x1="131.57" y1="117.6" x2="131.57" y2="120.39999999999999" stroke="#3a3a3a" stroke-width="0.9"/><text x="131.57" y="129.5" font-size="6.6" text-anchor="middle" fill="#333333" stroke="#333333" stroke-width="0.18">9</text><line x1="160.60" y1="117.6" x2="160.60" y2="120.39999999999999" stroke="#3a3a3a" stroke-width="0.9"/><text x="160.60" y="129.5" font-size="6.6" text-anchor="middle" fill="#333333" stroke="#333333" stroke-width="0.18">12</text><text transform="translate(103.05,141.1) scale(0.66,1)" x="0" y="0" font-size="8.1" font-weight="700" text-anchor="middle" fill="#383838">Months from GVHD Dx</text><text transform="translate(18.8,74.4) rotate(-90) scale(0.68,1)" x="0" y="0" font-size="7.8" font-weight="700" text-anchor="middle" fill="#484848">Non-relapse mortality (%)</text><text x="34.70" y="151.20" font-size="6" text-anchor="end" fill="#c8506a" stroke="#c8506a" stroke-width="0.12">High Risk</text><text x="44.50" y="151.20" font-size="6.4" text-anchor="middle" fill="#333333" stroke="#333333" stroke-width="0.18">127</text><text x="73.52" y="151.20" font-size="6.4" text-anchor="middle" fill="#333333" stroke="#333333" stroke-width="0.18">107</text><text x="102.55" y="151.20" font-size="6.4" text-anchor="middle" fill="#333333" stroke="#333333" stroke-width="0.18">96</text><text x="131.57" y="151.20" font-size="6.4" text-anchor="middle" fill="#333333" stroke="#333333" stroke-width="0.18">90</text><text x="160.60" y="151.20" font-size="6.4" text-anchor="middle" fill="#333333" stroke="#333333" stroke-width="0.18">85</text><text x="34.70" y="160.85" font-size="6" text-anchor="end" fill="#56678f" stroke="#56678f" stroke-width="0.12">Low Risk</text><text x="44.50" y="160.85" font-size="6.4" text-anchor="middle" fill="#333333" stroke="#333333" stroke-width="0.18">194</text><text x="73.52" y="160.85" font-size="6.4" text-anchor="middle" fill="#333333" stroke="#333333" stroke-width="0.18">174</text><text x="102.55" y="160.85" font-size="6.4" text-anchor="middle" fill="#333333" stroke="#333333" stroke-width="0.18">164</text><text x="131.57" y="160.85" font-size="6.4" text-anchor="middle" fill="#333333" stroke="#333333" stroke-width="0.18">151</text><text x="160.60" y="160.85" font-size="6.4" text-anchor="middle" fill="#333333" stroke="#333333" stroke-width="0.18">142</text></g>
<rect x="0.5" y="0.5" width="519" height="339" fill="none" stroke="#5a5a5a" stroke-width="1.1"/>
</svg>
</body></html>
